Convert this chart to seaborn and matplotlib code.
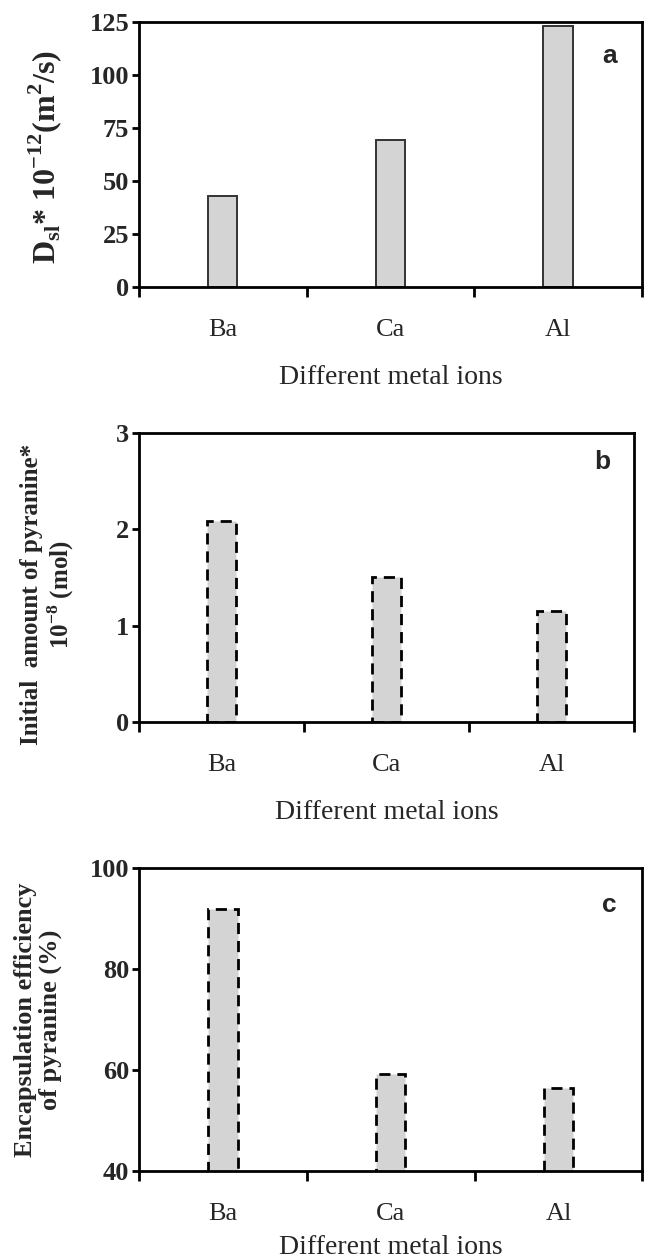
import matplotlib
matplotlib.use('Agg')
import matplotlib.pyplot as plt
import seaborn as sns
import pandas as pd

# metal ions on the x axis
ions = ['Ba', 'Ca', 'Al']
# a: diffusion coefficient D_sl * 1e-12 (m2/s)
diffusion = [43, 69, 123]
# b: initial amount of pyranine * 1e-8 (mol)
pyranine_amount = [2.09, 1.51, 1.15]
# c: encapsulation efficiency of pyranine (%)
encap_eff = [92.0, 59.3, 56.5]

sns.set_style('ticks')
plt.rcParams['font.family'] = ['Liberation Serif', 'DejaVu Serif']
plt.rcParams['mathtext.fontset'] = 'custom'
plt.rcParams['mathtext.rm'] = 'Liberation Serif'
plt.rcParams['mathtext.bf'] = 'Liberation Serif:bold'

fig = plt.figure(figsize=(6.48, 12.58), dpi=100)

panels = [
    dict(vals=diffusion, rect=[0.2145, 0.7721, 0.776, 0.2107], ylim=(0, 125),
         yticks=[0, 25, 50, 75, 100, 125],
         ylabel=r'D$_{\mathbf{sl}}$* 10$^{\mathbf{-12}}$(m$^{\mathbf{2}}$/s)',
         ylab_xy=(-0.187, 0.49), ylab_size=23, xlab_y=-0.341,
         ls='-', ec='#333333', lw=1.4, letter='a', letter_y=0.87),
    dict(vals=pyranine_amount, rect=[0.2145, 0.4258, 0.764, 0.2302], ylim=(0, 3),
         yticks=[0, 1, 2, 3],
         ylabel='Initial  amount of pyranine*\n' + r'10$^{\mathbf{-8}}$ (mol)',
         ylab_xy=(-0.183, 0.44), ylab_size=18, xlab_y=-0.313,
         ls=(0, (4, 2.5)), ec='black', lw=2, letter='b', letter_y=0.9),
    dict(vals=encap_eff, rect=[0.2145, 0.0692, 0.777, 0.2406], ylim=(40, 100),
         yticks=[40, 60, 80, 100],
         ylabel='Encapsulation efficiency\nof pyranine (%)',
         ylab_xy=(-0.2, 0.5), ylab_size=19, xlab_y=-0.254,
         ls=(0, (4, 2.5)), ec='black', lw=2, letter='c', letter_y=0.88),
]

for p in panels:
    ax = fig.add_axes(p['rect'])
    df = pd.DataFrame({'ion': ions, 'value': p['vals']})
    sns.barplot(data=df, x='ion', y='value', ax=ax, color='#d4d4d4',
                saturation=1, width=0.175, edgecolor=p['ec'],
                linewidth=p['lw'], linestyle=p['ls'], zorder=2)
    ax.set_xlim(-0.5, 2.5)
    ax.set_ylim(*p['ylim'])
    ax.set_yticks(p['yticks'])
    ax.set_yticklabels([str(t) for t in p['yticks']], fontsize=19,
                       fontweight='bold')
    # category boundaries carry the tick marks, labels sit at centres
    ax.set_xticks([-0.5, 0.5, 1.5, 2.5])
    ax.set_xticklabels([])
    ax.set_xticks([0, 1, 2], minor=True)
    ax.set_xticklabels(ions, minor=True, fontsize=19)
    ax.tick_params(axis='x', which='major', direction='out', length=7,
                   width=2, color='black')
    ax.tick_params(axis='x', which='minor', length=0, pad=23)
    ax.tick_params(axis='y', direction='out', length=5, width=2,
                   color='black', pad=2)
    for s in ax.spines.values():
        s.set_visible(True)
        s.set_linewidth(2)
        s.set_color('black')

    ax.set_xlabel('Different metal ions', fontsize=20)
    ax.xaxis.label.set_verticalalignment('center')
    ax.xaxis.set_label_coords(0.5, p['xlab_y'])
    ax.set_ylabel(p['ylabel'], fontsize=p['ylab_size'], fontweight='bold',
                  linespacing=1.1)
    ax.yaxis.label.set_verticalalignment('center')
    ax.yaxis.set_label_coords(*p['ylab_xy'])

    ax.text(0.935, p['letter_y'], p['letter'], transform=ax.transAxes,
            fontsize=19, fontweight='bold', family='Liberation Sans',
            ha='center', va='center')

fig.savefig('out.png', dpi=100)
